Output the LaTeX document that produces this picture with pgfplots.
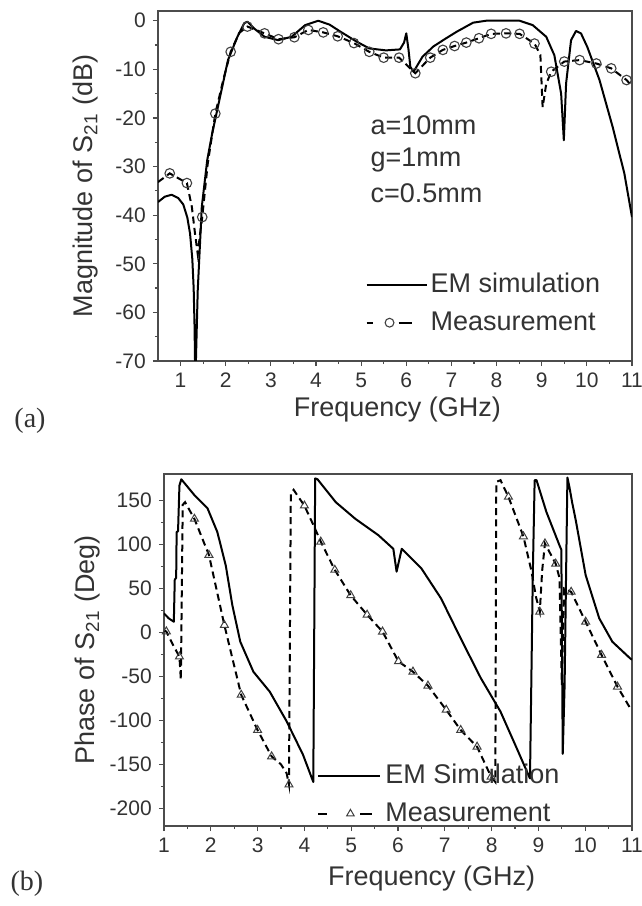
\documentclass[border=0pt]{standalone}
\usepackage{pgfplots}
\pgfplotsset{compat=1.18}
\usepackage{fontspec}
\setmainfont{Liberation Sans}
\newfontfamily\seriffont{Liberation Serif}

\definecolor{txt}{gray}{0.2}
\definecolor{axc}{gray}{0.3}

\pgfplotsset{
  sparams/.style={
    scale only axis,
    axis line style={axc, line width=0.7pt},
    tick style={axc, line width=0.6pt},
    major tick length=2.6pt, minor tick length=1.6pt,
    tick align=outside, xtick pos=left, ytick pos=left,
    tick label style={font=\fontsize{10.5}{12}\selectfont, text=txt},
    /pgf/number format/assume math mode=true,
    label style={font=\fontsize{13.5}{15}\selectfont, text=txt},
    xtick={1,...,11}, minor x tick num=1, minor y tick num=1,
    legend style={draw=none, fill=none, inner sep=0pt,
      font=\fontsize{13.5}{15}\selectfont, text=txt, row sep=4pt,
      nodes={inner xsep=1.5pt}},
    legend cell align=left,
  },
  sim/.style={black, line width=1pt, line join=round},
  meas/.style={black, line width=1pt, dash pattern=on 3.5pt off 2.2pt},
  circ/.style={only marks, mark=o, mark size=2.4pt,
    mark options={black!75, line width=0.55pt, solid}},
  tri/.style={only marks, mark=triangle, mark size=2.3pt,
    mark options={black!75, line width=0.5pt, solid}},
}

\begin{document}
\begin{tikzpicture}
\useasboundingbox (0,0) rectangle (321pt,-453pt);
\fill[white] (0,0) rectangle (321pt,-453pt);

% ---------------- (a) magnitude ----------------
\begin{axis}[sparams, at={(79pt,-5.5pt)}, anchor=north west,
  width=237pt, height=175pt,
  xmin=0.5, xmax=11, ymin=-70, ymax=2, ytick={-70,-60,...,0},
  xlabel={Frequency (GHz)}, ylabel={Magnitude of S\textsubscript{21} (dB)},
  xlabel style={at={(axis description cs:0.505,-0.14)}, anchor=center},
  ylabel style={at={(axis description cs:-0.152,0.5)}, anchor=center},
  legend style={at={(0.437,0.263)}, anchor=north west},
]
\addplot[sim, forget plot] coordinates {
  (0.5,-37.3) (0.65,-36.2) (0.8,-35.8) (0.95,-36.5) (1.06,-37.8) (1.15,-40.5)
  (1.21,-43.8) (1.26,-49) (1.29,-55) (1.31,-63) (1.32,-70) (1.34,-70)
  (1.38,-55.5) (1.47,-38.3) (1.59,-28.7) (1.70,-23.2) (1.89,-15) (2.05,-8.1)
  (2.26,-3.3) (2.41,-0.5) (2.48,-0.2) (2.63,-1.6) (2.86,-3.3) (3.16,-4.0)
  (3.46,-3.3) (3.76,-0.9) (4.05,0) (4.3,-0.8) (4.55,-2.3) (4.9,-4.3)
  (5.18,-5.7) (5.55,-6.1) (5.86,-5.9) (5.95,-4.5) (6.0,-2.6) (6.05,-6)
  (6.09,-9.5) (6.16,-10.5) (6.36,-7.4) (6.6,-5.3) (6.85,-3.8) (7.11,-2.3)
  (7.48,-0.4) (7.77,0) (8.51,0) (8.80,-0.9) (9.10,-3.3) (9.28,-7.1)
  (9.43,-15) (9.49,-24.6) (9.54,-12.9) (9.65,-4) (9.76,-2.1) (9.87,-2.6)
  (10.01,-5.4) (10.28,-12.2) (10.57,-21.8) (10.83,-31.4) (11.0,-40.4)
};
\addplot[meas, forget plot] coordinates {
  (0.5,-33.2) (0.76,-31.4) (1.14,-33.4) (1.25,-38.3) (1.32,-43.8) (1.38,-48)
  (1.43,-44) (1.48,-40.4) (1.6,-29.5) (1.77,-19.1) (1.95,-12) (2.11,-6.4)
  (2.3,-2.5) (2.48,-1.2) (2.86,-2.6) (3.17,-3.8) (3.52,-3.4) (3.83,-1.9)
  (4.16,-2.4) (4.48,-3.2) (4.84,-4.6) (5.18,-6.4) (5.5,-7.6) (5.84,-7.6)
  (6.2,-10.8) (6.53,-7.6) (6.81,-6.0) (7.07,-5.2) (7.33,-4.5) (7.61,-3.6)
  (7.88,-2.7) (8.21,-2.6) (8.51,-2.7) (8.84,-4.7) (8.97,-7) (9.02,-17.8)
  (9.1,-13) (9.21,-10.5) (9.50,-8.4) (9.84,-8.1) (10.21,-8.8) (10.54,-9.8)
  (10.88,-12.2) (11.0,-13.5)
};
\addplot[circ, forget plot] coordinates {
  (0.76,-31.4) (1.14,-33.4) (1.48,-40.4) (1.77,-19.1) (2.11,-6.4) (2.48,-1.2)
  (2.86,-2.6) (3.17,-3.8) (3.52,-3.4) (3.83,-1.9) (4.16,-2.4) (4.48,-3.2)
  (4.84,-4.6) (5.18,-6.4) (5.5,-7.6) (5.84,-7.6) (6.2,-10.8) (6.53,-7.6)
  (6.81,-6.0) (7.07,-5.2) (7.33,-4.5) (7.61,-3.6) (7.88,-2.7) (8.21,-2.6)
  (8.51,-2.7) (8.84,-4.7) (9.21,-10.5) (9.50,-8.4) (9.84,-8.1) (10.21,-8.8)
  (10.54,-9.8) (10.88,-12.2)
};
\addlegendimage{legend image code/.code={
  \draw[black, line width=1pt] (0pt,0pt) -- (30pt,0pt);}}
\addlegendentry{EM simulation}
\addlegendimage{legend image code/.code={
  \draw[black, line width=1pt] (0pt,0pt) -- (3pt,0pt);
  \draw[black, line width=1pt] (16pt,0pt) -- (22.5pt,0pt);
  \draw[black!75, line width=0.55pt] (11.5pt,0pt) circle (2.2pt);
  \path[draw=none, fill=none] (0pt,0pt) -- (30pt,0pt);}}
\addlegendentry{Measurement}
\node[anchor=west, font=\fontsize{13.5}{15}\selectfont, text=txt, inner sep=0pt]
  at (axis cs:5.2,-21.5) {a=10mm};
\node[anchor=west, font=\fontsize{13.5}{15}\selectfont, text=txt, inner sep=0pt]
  at (axis cs:5.2,-28.7) {g=1mm};
\node[anchor=west, font=\fontsize{13.5}{15}\selectfont, text=txt, inner sep=0pt]
  at (axis cs:5.2,-35.5) {c=0.5mm};
\end{axis}
\node[font=\seriffont\fontsize{14}{16}\selectfont, text=txt] at (15pt,-210.5pt) {(a)};

% ---------------- (b) phase ----------------
\begin{axis}[sparams, at={(82pt,-237pt)}, anchor=north west,
  width=234pt, height=176pt,
  xmin=1, xmax=11, ymin=-220, ymax=180, ytick={-200,-150,...,150},
  xlabel={Frequency (GHz)}, ylabel={Phase of S\textsubscript{21} (Deg)},
  xlabel style={at={(axis description cs:0.572,-0.15)}, anchor=center},
  ylabel style={at={(axis description cs:-0.163,0.5)}, anchor=center},
  legend style={at={(0.327,0.1875)}, anchor=north west},
]
\addplot[sim, forget plot] coordinates {
  (1.0,21.6) (1.1,16) (1.21,12.1) (1.23,60) (1.26,62) (1.27,114) (1.3,115)
  (1.33,167) (1.37,174) (1.65,156) (1.93,141) (2.14,114) (2.32,76) (2.46,31)
  (2.63,-10.6) (2.91,-44.7) (3.26,-67.4) (3.62,-101) (3.97,-139) (4.19,-170)
  (4.21,0) (4.23,175) (4.28,174) (4.67,148) (5.09,129) (5.58,110.5) (5.90,95)
  (5.97,69) (6.08,95) (6.50,72.7) (6.92,38.6) (7.34,-6.8) (7.77,-52)
  (8.19,-90) (8.54,-132) (8.82,-166) (8.85,-52) (8.88,65) (8.92,173)
  (8.96,173) (9.17,137) (9.45,99) (9.49,94) (9.52,-138) (9.56,-60) (9.59,60)
  (9.62,176) (9.66,166) (9.72,148) (9.80,127) (10.01,65) (10.30,16)
  (10.58,-10.6) (10.96,-29.5) (11,-31)
};
\addplot[meas, forget plot] coordinates {
  (1.0,2) (1.05,1) (1.2,-15) (1.33,-27.6) (1.36,-54) (1.40,145) (1.45,148)
  (1.65,129) (1.96,88) (2.29,8.3) (2.65,-71) (3.0,-111) (3.30,-141)
  (3.5,-150) (3.62,-160) (3.67,-173) (3.71,158) (3.77,162) (4.0,144)
  (4.21,120) (4.35,103) (4.65,71) (4.99,42) (5.34,20) (5.67,0.8) (6.01,-33)
  (6.32,-44.7) (6.64,-60.6) (7.03,-88) (7.34,-111) (7.69,-130) (7.99,-164)
  (8.08,-170) (8.10,171) (8.19,173) (8.36,154) (8.68,109) (8.85,70)
  (8.95,40) (9.03,23.5) (9.08,70) (9.14,101) (9.37,78) (9.45,62) (9.50,-60)
  (9.55,50) (9.70,46) (10.01,12) (10.35,-25.7) (10.69,-61.7) (10.96,-86)
  (11,-88)
};
\addplot[tri, forget plot] coordinates {
  (1.05,1) (1.33,-27.6) (1.65,129) (1.96,88) (2.29,8.3) (2.65,-71) (3.0,-111)
  (3.30,-141) (3.67,-173) (4.0,144) (4.35,103) (4.65,71) (4.99,42) (5.34,20)
  (5.67,0.8) (6.01,-33) (6.32,-44.7) (6.64,-60.6) (7.03,-88) (7.34,-111)
  (7.69,-130) (7.99,-164) (8.36,154) (8.68,109) (9.03,23.5) (9.14,101)
  (9.37,78) (9.70,46) (10.01,12) (10.35,-25.7) (10.69,-61.7)
};
\addlegendimage{legend image code/.code={
  \draw[black, line width=1pt] (0pt,0pt) -- (31pt,0pt);}}
\addlegendentry{EM Simulation}
\addlegendimage{legend image code/.code={
  \draw[black, line width=1pt] (0pt,0pt) -- (4.5pt,0pt);
  \draw[black, line width=1pt] (21pt,0pt) -- (27pt,0pt);
  \draw[black!75, line width=0.5pt] (16pt,0pt) +(90:2.2pt) -- +(210:2.2pt) -- +(330:2.2pt) -- cycle;
  \path[draw=none, fill=none] (0pt,0pt) -- (32pt,0pt);}}
\addlegendentry{Measurement}
\end{axis}
\node[font=\seriffont\fontsize{14}{16}\selectfont, text=txt] at (13.5pt,-442pt) {(b)};
\end{tikzpicture}
\end{document}
